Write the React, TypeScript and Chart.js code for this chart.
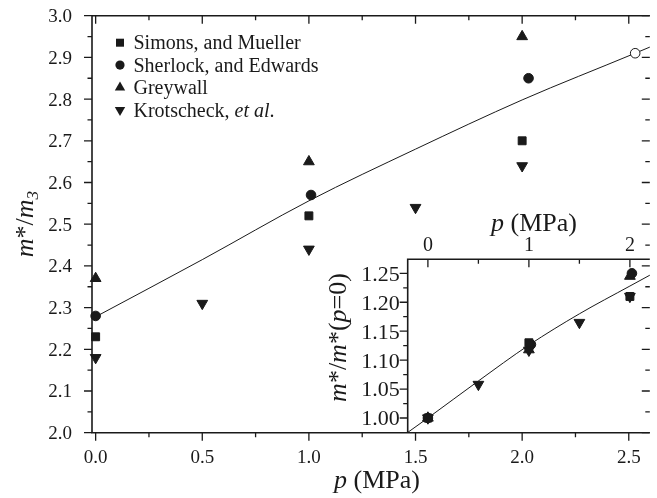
import React, { useEffect, useRef } from 'react';
import { Chart, registerables } from 'chart.js';

Chart.register(...registerables);

const SERIF = '"Liberation Serif", serif';
const INK = '#1a1a1a';

// ---- main panel: m*/m3 against pressure ----
const simonsP = [0, 1.0, 2.0];
const simonsM = [2.23, 2.52, 2.70];
const sherlockP = [0, 1.01, 2.03];
const sherlockM = [2.28, 2.57, 2.85];
const greywallP = [0, 1.0, 2.0];
const greywallM = [2.37, 2.65, 2.95];
const krotscheckP = [0, 0.5, 1.0, 1.5, 2.0];
const krotscheckM = [2.18, 2.31, 2.44, 2.54, 2.64];
const meltingP = [2.53];
const meltingM = [2.91];
const fitP = [0, 0.5, 1.0, 1.5, 2.0, 2.53, 2.6];
const fitM = [2.278, 2.415, 2.556, 2.68, 2.798, 2.91, 2.925];

const mainXMajor = [0, 0.5, 1.0, 1.5, 2.0, 2.5];
const mainXLabels = ['0.0', '0.5', '1.0', '1.5', '2.0', '2.5'];
const mainXMinor = [0.25, 0.75, 1.25, 1.75, 2.25];
const mainYMajor = [2.0, 2.1, 2.2, 2.3, 2.4, 2.5, 2.6, 2.7, 2.8, 2.9, 3.0];
const mainYLabels = ['2.0', '2.1', '2.2', '2.3', '2.4', '2.5', '2.6', '2.7', '2.8', '2.9', '3.0'];
const mainYMinor = [2.05, 2.15, 2.25, 2.35, 2.45, 2.55, 2.65, 2.75, 2.85, 2.95];

// ---- inset: m*/m*(p=0) against pressure ----
const insetSimonsP = [0, 1.0, 2.0];
const insetSimonsR = [1.0, 1.13, 1.21];
const insetSherlockP = [0, 1.02, 2.02];
const insetSherlockR = [1.0, 1.127, 1.25];
const insetGreywallP = [0, 1.0, 2.0];
const insetGreywallR = [1.0, 1.118, 1.245];
const insetKrotscheckP = [0, 0.5, 1.0, 1.5, 2.0];
const insetKrotscheckR = [1.0, 1.058, 1.117, 1.165, 1.21];
const insetFitP = [-0.2, 0, 0.5, 1.0, 1.5, 2.0, 2.2];
const insetFitR = [0.975, 1.0, 1.064, 1.126, 1.18, 1.228, 1.247];

const insetXMajor = [0, 1, 2];
const insetXLabels = ['0', '1', '2'];
const insetXMinor = [0.5, 1.5];
const insetYMajor = [1.0, 1.05, 1.1, 1.15, 1.2, 1.25];
const insetYLabels = ['1.00', '1.05', '1.10', '1.15', '1.20', '1.25'];
const insetYMinor = [1.025, 1.075, 1.125, 1.175, 1.225];

const legendNames = ['Simons, and Mueller', 'Sherlock, and Edwards', 'Greywall', 'Krotscheck, '];

type Seg = { t: string; it?: boolean; size: number; dy?: number };

const font = (size: number, it?: boolean) => (it ? 'italic ' : '') + size + 'px ' + SERIF;

function drawRich(ctx: CanvasRenderingContext2D, segs: Seg[], x: number, y: number, align: 'left' | 'center') {
  let w = 0;
  for (const s of segs) {
    ctx.font = font(s.size, s.it);
    w += ctx.measureText(s.t).width;
  }
  let cx = align === 'center' ? x - w / 2 : x;
  ctx.textAlign = 'left';
  ctx.textBaseline = 'alphabetic';
  for (const s of segs) {
    ctx.font = font(s.size, s.it);
    ctx.fillText(s.t, cx, y + (s.dy || 0));
    cx += ctx.measureText(s.t).width;
  }
}

const pts = (xs: number[], ys: number[]) => xs.map((x, i) => ({ x, y: ys[i] }));

function marker(ctx: CanvasRenderingContext2D, kind: string, x: number, y: number) {
  ctx.beginPath();
  if (kind === 'rect') {
    ctx.rect(x - 4, y - 4, 8, 8);
  } else if (kind === 'circle') {
    ctx.arc(x, y, 4.6, 0, Math.PI * 2);
  } else if (kind === 'up') {
    const r = 6;
    ctx.moveTo(x, y - r);
    ctx.lineTo(x + r * 0.866, y + r / 2);
    ctx.lineTo(x - r * 0.866, y + r / 2);
    ctx.closePath();
  } else {
    const r = 6;
    ctx.moveTo(x, y + r);
    ctx.lineTo(x + r * 0.866, y - r / 2);
    ctx.lineTo(x - r * 0.866, y - r / 2);
    ctx.closePath();
  }
  ctx.fill();
}

const mainFrame = {
  id: 'mainFrame',
  afterDraw(chart: any) {
    const { ctx, chartArea: a, scales } = chart;
    const xs = scales.x;
    const ys = scales.y;
    ctx.save();
    ctx.strokeStyle = INK;
    ctx.fillStyle = INK;
    ctx.lineWidth = 1.6;
    ctx.beginPath();
    ctx.moveTo(a.right, a.top);
    ctx.lineTo(a.left, a.top);
    ctx.lineTo(a.left, a.bottom);
    ctx.lineTo(a.right, a.bottom);
    ctx.stroke();

    ctx.lineWidth = 1.3;
    ctx.beginPath();
    mainXMajor.forEach((v) => {
      const px = xs.getPixelForValue(v);
      ctx.moveTo(px, a.bottom);
      ctx.lineTo(px, a.bottom + 8);
      ctx.moveTo(px, a.top);
      ctx.lineTo(px, a.top + 8);
    });
    mainXMinor.forEach((v) => {
      const px = xs.getPixelForValue(v);
      ctx.moveTo(px, a.bottom);
      ctx.lineTo(px, a.bottom + 4.5);
      ctx.moveTo(px, a.top);
      ctx.lineTo(px, a.top + 4.5);
    });
    mainYMajor.forEach((v) => {
      const py = ys.getPixelForValue(v);
      ctx.moveTo(a.left - 8, py);
      ctx.lineTo(a.left, py);
      ctx.moveTo(a.right - 8, py);
      ctx.lineTo(a.right, py);
    });
    mainYMinor.forEach((v) => {
      const py = ys.getPixelForValue(v);
      ctx.moveTo(a.left - 4.5, py);
      ctx.lineTo(a.left, py);
      ctx.moveTo(a.right - 4.5, py);
      ctx.lineTo(a.right, py);
    });
    ctx.stroke();

    // tick labels
    ctx.font = font(19);
    ctx.textBaseline = 'alphabetic';
    ctx.textAlign = 'right';
    mainYMajor.forEach((v, i) => {
      ctx.fillText(mainYLabels[i], a.left - 20, ys.getPixelForValue(v) + 6.4);
    });
    ctx.textAlign = 'center';
    mainXMajor.forEach((v, i) => {
      ctx.fillText(mainXLabels[i], xs.getPixelForValue(v), a.bottom + 30.5);
    });

    // axis titles
    drawRich(ctx, [
      { t: 'p', it: true, size: 26 },
      { t: ' (MPa)', size: 26 },
    ], 377, 488, 'center');

    ctx.save();
    ctx.translate(33, (a.top + a.bottom) / 2);
    ctx.rotate(-Math.PI / 2);
    drawRich(ctx, [
      { t: 'm', it: true, size: 26 },
      { t: '*/', size: 26 },
      { t: 'm', it: true, size: 26 },
      { t: '3', it: true, size: 17, dy: 5 },
    ], 0, 0, 'center');
    ctx.restore();

    // legend
    const kinds = ['rect', 'circle', 'up', 'down'];
    const rowY = [42.7, 65.1, 87.5, 109.9];
    kinds.forEach((k, i) => {
      marker(ctx, k, 120, rowY[i]);
      if (i < 3) {
        drawRich(ctx, [{ t: legendNames[i], size: 20 }], 133.5, rowY[i] + 6.6, 'left');
      } else {
        drawRich(ctx, [
          { t: legendNames[i], size: 20 },
          { t: 'et al', it: true, size: 20 },
          { t: '.', size: 20 },
        ], 133.5, rowY[i] + 6.6, 'left');
      }
    });
    ctx.restore();
  },
};

const insetFrame = {
  id: 'insetFrame',
  afterDraw(chart: any) {
    const { ctx, chartArea: a, scales } = chart;
    const xs = scales.x;
    const ys = scales.y;
    ctx.save();
    ctx.strokeStyle = INK;
    ctx.fillStyle = INK;
    ctx.lineWidth = 1.6;
    ctx.beginPath();
    ctx.moveTo(a.right, a.top);
    ctx.lineTo(a.left, a.top);
    ctx.lineTo(a.left, a.bottom);
    ctx.stroke();

    ctx.lineWidth = 1.3;
    ctx.beginPath();
    insetXMajor.forEach((v) => {
      const px = xs.getPixelForValue(v);
      ctx.moveTo(px, a.top);
      ctx.lineTo(px, a.top + 8);
    });
    insetXMinor.forEach((v) => {
      const px = xs.getPixelForValue(v);
      ctx.moveTo(px, a.top);
      ctx.lineTo(px, a.top + 4.5);
    });
    insetYMajor.forEach((v) => {
      const py = ys.getPixelForValue(v);
      ctx.moveTo(a.left - 8, py);
      ctx.lineTo(a.left, py);
    });
    insetYMinor.forEach((v) => {
      const py = ys.getPixelForValue(v);
      ctx.moveTo(a.left - 4.5, py);
      ctx.lineTo(a.left, py);
    });
    ctx.stroke();

    ctx.font = font(22);
    ctx.textBaseline = 'alphabetic';
    ctx.textAlign = 'right';
    insetYMajor.forEach((v, i) => {
      ctx.fillText(insetYLabels[i], a.left - 8, ys.getPixelForValue(v) + 7.4);
    });
    ctx.font = font(20);
    ctx.textAlign = 'center';
    insetXMajor.forEach((v, i) => {
      ctx.fillText(insetXLabels[i], xs.getPixelForValue(v), a.top - 8);
    });

    drawRich(ctx, [
      { t: 'p', it: true, size: 26 },
      { t: ' (MPa)', size: 26 },
    ], 534, 231, 'center');

    ctx.save();
    ctx.translate(346, 337.5);
    ctx.rotate(-Math.PI / 2);
    drawRich(ctx, [
      { t: 'm', it: true, size: 26 },
      { t: '*/', size: 26 },
      { t: 'm', it: true, size: 26 },
      { t: '*(', size: 26 },
      { t: 'p', it: true, size: 26 },
      { t: '=0)', size: 26 },
    ], 0, 0, 'center');
    ctx.restore();
    ctx.restore();
  },
};

const pointStyleSet = (kind: string) => {
  const base = { backgroundColor: INK, borderColor: INK, borderWidth: 1, clip: false as const, showLine: false };
  if (kind === 'rect') return { ...base, pointStyle: 'rect', pointRadius: 5.6 };
  if (kind === 'circle') return { ...base, pointStyle: 'circle', pointRadius: 4.8 };
  if (kind === 'up') return { ...base, pointStyle: 'triangle', pointRadius: 6.2 };
  return { ...base, pointStyle: 'triangle', pointRadius: 6.2, pointRotation: 180 };
};

export default function App() {
  const mainRef = useRef<HTMLCanvasElement>(null);
  const insetRef = useRef<HTMLCanvasElement>(null);

  useEffect(() => {
    const main = new Chart(mainRef.current as HTMLCanvasElement, {
      type: 'scatter',
      data: {
        datasets: [
          { label: 'Simons, and Mueller', data: pts(simonsP, simonsM), ...pointStyleSet('rect') },
          { label: 'Sherlock, and Edwards', data: pts(sherlockP, sherlockM), ...pointStyleSet('circle') },
          { label: 'Greywall', data: pts(greywallP, greywallM), ...pointStyleSet('up') },
          { label: 'Krotscheck, et al.', data: pts(krotscheckP, krotscheckM), ...pointStyleSet('down') },
          {
            label: 'melting',
            data: pts(meltingP, meltingM),
            pointStyle: 'circle',
            pointRadius: 4.8,
            backgroundColor: '#ffffff',
            borderColor: INK,
            borderWidth: 1,
            showLine: false,
            clip: false,
          },
          {
            label: 'fit',
            data: pts(fitP, fitM),
            showLine: true,
            pointRadius: 0,
            borderColor: INK,
            borderWidth: 1,
            cubicInterpolationMode: 'monotone',
          },
        ] as any,
      },
      options: {
        responsive: false,
        animation: false,
        events: [],
        layout: { padding: { left: 92, top: 15.7, right: 0, bottom: 65.3 } },
        scales: {
          x: { type: 'linear', min: -0.0171, max: 2.5986, display: false },
          y: { type: 'linear', min: 2.0, max: 3.0, display: false },
        },
        plugins: { legend: { display: false }, tooltip: { enabled: false } },
      },
      plugins: [mainFrame],
    });

    const inset = new Chart(insetRef.current as HTMLCanvasElement, {
      type: 'scatter',
      data: {
        datasets: [
          { label: 'Simons, and Mueller', data: pts(insetSimonsP, insetSimonsR), ...pointStyleSet('rect') },
          { label: 'Sherlock, and Edwards', data: pts(insetSherlockP, insetSherlockR), ...pointStyleSet('circle') },
          { label: 'Greywall', data: pts(insetGreywallP, insetGreywallR), ...pointStyleSet('up') },
          { label: 'Krotscheck, et al.', data: pts(insetKrotscheckP, insetKrotscheckR), ...pointStyleSet('down') },
          {
            label: 'fit',
            data: pts(insetFitP, insetFitR),
            showLine: true,
            pointRadius: 0,
            borderColor: INK,
            borderWidth: 1,
            cubicInterpolationMode: 'monotone',
          },
        ] as any,
      },
      options: {
        responsive: false,
        animation: false,
        events: [],
        layout: { padding: { left: 407.7, top: 259.3, right: 0, bottom: 65.3 } },
        scales: {
          x: { type: 'linear', min: -0.2, max: 2.197, display: false },
          y: { type: 'linear', min: 0.9746, max: 1.2742, display: false },
        },
        plugins: { legend: { display: false }, tooltip: { enabled: false } },
      },
      plugins: [insetFrame],
    });

    return () => {
      main.destroy();
      inset.destroy();
    };
  }, []);

  return (
    <div style={{ position: 'absolute', left: 0, top: 0, width: 657, height: 498, background: '#ffffff', overflow: 'hidden' }}>
      <canvas ref={mainRef} width={657} height={498} style={{ position: 'absolute', left: 0, top: 0 }} />
      <canvas ref={insetRef} width={657} height={498} style={{ position: 'absolute', left: 0, top: 0 }} />
    </div>
  );
}
